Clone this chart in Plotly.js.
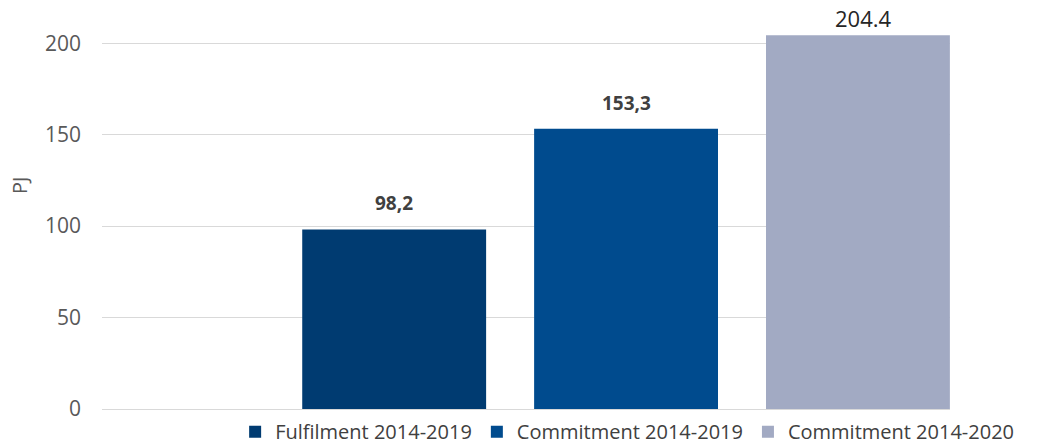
<!DOCTYPE html>
<html>
<head>
<meta charset="utf-8">
<script src="https://cdn.plot.ly/plotly-3.0.1.min.js"></script>
<style>html,body{margin:0;padding:0;background:#fff;}#chart{width:1039px;height:445px;}</style>
</head>
<body>
<div id="chart"></div>
<script>
const seriesNames = ["Fulfilment 2014-2019", "Commitment 2014-2019", "Commitment 2014-2020"];
const values = [98.2, 153.3, 204.4];
const valueLabels = ["98,2", "153,3", "204.4"];
const colors = ["#003b71", "#004b8e", "#a2aac3"];
const yTicks = [0, 50, 100, 150, 200];
const yAxisLabel = "PJ";

const FONT = "Open Sans, sans-serif";

const traces = seriesNames.map((name, i) => ({
  type: "bar",
  name: name,
  x: [name],
  y: [values[i]],
  width: 0.793,
  marker: {color: colors[i], line: {width: 0}},
  hoverinfo: "none"
}));

const annotations = values.map((v, i) => ({
  x: seriesNames[i],
  y: v,
  xref: "x",
  yref: "y",
  text: i < 2 ? "<b>" + valueLabels[i] + "</b>" : valueLabels[i],
  showarrow: false,
  yanchor: "bottom",
  yshift: i < 2 ? 11 : 0,
  xshift: i < 2 ? 0 : 6,
  font: i < 2 ? {family: FONT, size: 19, color: "#404040"}
              : {family: FONT, size: 22, color: "#262626"}
}));

annotations.push({
  text: yAxisLabel,
  xref: "paper",
  yref: "paper",
  x: (20 - 102) / 848,
  y: (409 - 186) / 374,
  xanchor: "center",
  yanchor: "middle",
  textangle: -90,
  showarrow: false,
  font: {family: FONT, size: 20, color: "#595959"}
});

const layout = {
  width: 1039,
  height: 445,
  margin: {l: 102, r: 89, t: 35, b: 36},
  paper_bgcolor: "#ffffff",
  plot_bgcolor: "#ffffff",
  barmode: "overlay",
  showlegend: true,
  legend: {
    orientation: "h",
    xref: "paper",
    x: 0.157,
    xanchor: "left",
    yref: "container",
    y: 0.03,
    yanchor: "middle",
    font: {family: FONT, size: 20, color: "#404040"},
    itemwidth: 30,
    tracegroupgap: 0,
    traceorder: "normal",
    bgcolor: "rgba(0,0,0,0)"
  },
  xaxis: {
    type: "category",
    categoryorder: "array",
    categoryarray: seriesNames,
    range: [-1.26, 2.397],
    showticklabels: false,
    showgrid: false,
    zeroline: false,
    showline: false,
    ticks: ""
  },
  yaxis: {
    range: [0, 204.5],
    tickvals: yTicks,
    ticktext: yTicks.map(String),
    showgrid: true,
    gridcolor: "#d9d9d9",
    gridwidth: 1,
    zeroline: true,
    zerolinecolor: "#d9d9d9",
    zerolinewidth: 1,
    showline: false,
    ticks: "",
    ticklabelstandoff: 20,
    tickfont: {family: FONT, size: 21, color: "#595959"}
  },
  annotations: annotations
};

Plotly.newPlot("chart", traces, layout, {displayModeBar: false, staticPlot: true});
</script>
</body>
</html>
